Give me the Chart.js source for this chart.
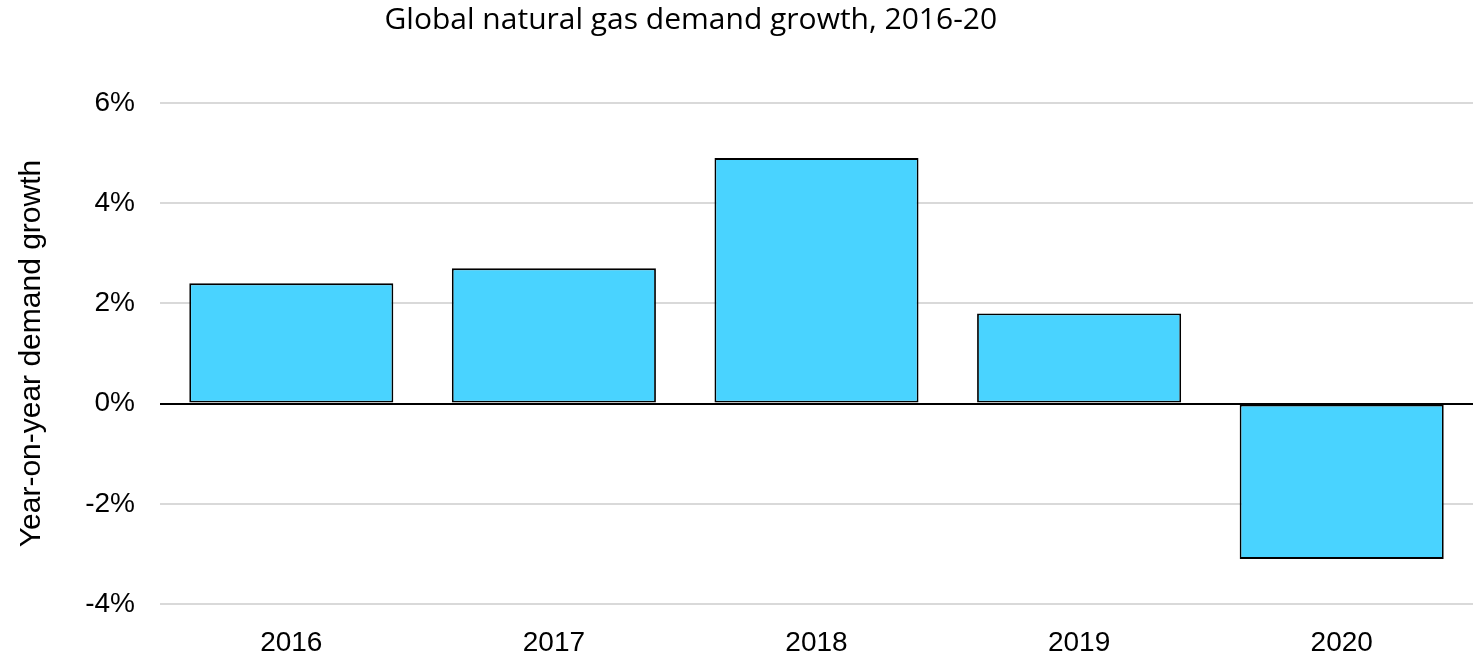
<!DOCTYPE html>
<html>
<head>
<meta charset="utf-8">
<script src="https://cdn.jsdelivr.net/npm/chart.js@4/dist/chart.umd.min.js"></script>
<style>
  html, body { margin: 0; padding: 0; background: #fff; }
  #wrap { width: 1473px; height: 658px; position: relative; }
</style>
</head>
<body>
<div id="wrap"><canvas id="chart"></canvas></div>
<script>
const years = ['2016', '2017', '2018', '2019', '2020'];
const growth = [2.4, 2.7, 4.9, 1.8, -3.1];
const yTicks = [-4, -2, 0, 2, 4, 6];

const titleText = 'Global natural gas demand growth, 2016-20';
const axisFont = '"Liberation Sans", Arial, sans-serif';

// title sits left of centre in the original, so draw it by hand
const offsetTitle = {
    id: 'offsetTitle',
    afterDraw(chart) {
        const ctx = chart.ctx;
        ctx.save();
        ctx.font = '30px "Open Sans", "Noto Sans", sans-serif';
        ctx.fillStyle = '#000';
        ctx.textAlign = 'center';
        ctx.textBaseline = 'middle';
        ctx.fillText(titleText, chart.width * 0.469, 20);
        ctx.restore();
    },
};

const ctx = document.getElementById('chart').getContext('2d');
new Chart(ctx, {
    type: 'bar',
    data: {
        labels: years,
        datasets: [
            {
                label: 'Demand growth',
                data: growth,
                backgroundColor: '#49D3FF',
                borderColor: '#000',
                borderWidth: 1.8,
                borderSkipped: false,
                categoryPercentage: 1,
                barPercentage: 0.777,
            },
        ],
    },
    options: {
        responsive: true,
        maintainAspectRatio: false,
        animation: false,
        layout: { padding: { top: 103, right: 0, bottom: 0, left: 14 } },
        plugins: {
            legend: { display: false },
            title: { display: false },
            tooltip: { enabled: false },
        },
        scales: {
            x: {
                afterFit(scale) { scale.height = 54; },
                grid: { display: false, drawTicks: false },
                border: { display: false },
                ticks: {
                    color: '#000',
                    padding: 22,
                    font: { family: axisFont, size: 28 },
                },
            },
            y: {
                min: -4,
                max: 6,
                afterFit(scale) { scale.width = 146; },
                afterBuildTicks(axis) {
                    axis.ticks = yTicks.map(v => ({ value: v }));
                },
                grid: {
                    drawTicks: false,
                    lineWidth: 2,
                    color: c => (c.tick && c.tick.value === 0 ? '#000' : '#d9d9d9'),
                },
                border: { display: false },
                ticks: {
                    color: '#000',
                    padding: 25,
                    font: { family: axisFont, size: 28 },
                    callback: v => v + '%',
                },
                title: {
                    display: true,
                    text: 'Year-on-year demand growth',
                    color: '#000',
                    padding: { top: 0, bottom: 35 },
                    font: { family: axisFont, size: 30 },
                },
            },
        },
    },
    plugins: [offsetTitle],
});
</script>
</body>
</html>
